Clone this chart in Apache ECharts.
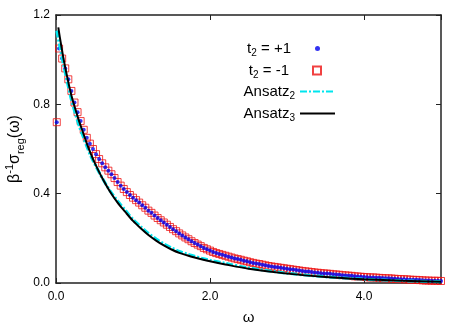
<!DOCTYPE html>
<html><head><meta charset="utf-8">
<script src="https://cdn.jsdelivr.net/npm/echarts@6/dist/echarts.min.js"></script>
<style>html,body{margin:0;padding:0;background:#fff}#c{width:463px;height:324px}</style>
</head><body><div id="c"></div>
<script>
// Tick labels
const xTicks = [0, 2, 4];
const yTicks = [0, 0.4, 0.8, 1.2];

// Data points (t2 = +1 and t2 = -1 coincide)
const omega = [0.01,
0.04,0.08,0.12,0.16,0.20,0.24,0.28,0.32,0.36,0.40,0.44,0.48,0.52,0.56,0.60,0.64,0.68,0.72,0.76,0.80,0.84,0.88,0.92,0.96,1.00,
1.04,1.08,1.12,1.16,1.20,1.24,1.28,1.32,1.36,1.40,1.44,1.48,1.52,1.56,1.60,1.64,1.68,1.72,1.76,1.80,1.84,1.88,1.92,1.96,2.00,
2.04,2.08,2.12,2.16,2.20,2.24,2.28,2.32,2.36,2.40,2.44,2.48,2.52,2.56,2.60,2.64,2.68,2.72,2.76,2.80,2.84,2.88,2.92,2.96,3.00,
3.04,3.08,3.12,3.16,3.20,3.24,3.28,3.32,3.36,3.40,3.44,3.48,3.52,3.56,3.60,3.64,3.68,3.72,3.76,3.80,3.84,3.88,3.92,3.96,4.00,
4.04,4.08,4.12,4.16,4.20,4.24,4.28,4.32,4.36,4.40,4.44,4.48,4.52,4.56,4.60,4.64,4.68,4.72,4.76,4.80,4.84,4.88,4.92,4.96,5.00];
const sigmaPlus = [0.72,
1.050,1.005,0.961,0.912,0.860,0.808,0.765,0.725,0.686,0.650,0.624,0.600,0.577,0.555,0.536,0.518,0.503,0.487,0.470,0.452,0.436,0.421,0.407,0.394,0.382,
0.371,0.360,0.348,0.337,0.324,0.314,0.302,0.291,0.281,0.271,0.261,0.251,0.241,0.232,0.222,0.213,0.204,0.196,0.187,0.179,0.172,0.165,0.157,0.151,0.145,
0.139,0.134,0.130,0.126,0.122,0.118,0.114,0.110,0.107,0.104,0.100,0.097,0.093,0.090,0.087,0.085,0.082,0.079,0.076,0.074,0.072,0.070,0.068,0.066,0.064,
0.062,0.060,0.058,0.056,0.054,0.052,0.051,0.049,0.047,0.046,0.044,0.043,0.042,0.041,0.039,0.038,0.037,0.035,0.034,0.033,0.032,0.030,0.029,0.028,0.027,
0.026,0.025,0.025,0.024,0.023,0.022,0.021,0.021,0.020,0.019,0.018,0.017,0.017,0.016,0.015,0.014,0.014,0.013,0.012,0.011,0.011,0.010,0.010,0.010,0.009];
const sigmaMinus = sigmaPlus.slice();

// Ansatz curves
const ansatz2Omega = [0.01,0.05,0.10,0.15,0.20,0.25,0.30,0.35,0.40,0.45,0.50,0.60,0.70,0.80,0.90,1.00,1.10,1.20,1.30,1.40,1.50,1.60,1.70,1.80,1.90,2.00,2.20,2.50,3.00,3.50,4.00,4.50,5.00];
const ansatz2 = [1.13,1.06,0.975,0.895,0.820,0.760,0.705,0.658,0.612,0.570,0.535,0.470,0.414,0.367,0.326,0.285,0.252,0.222,0.197,0.175,0.157,0.142,0.130,0.120,0.110,0.102,0.088,0.068,0.044,0.028,0.017,0.010,0.006];
const ansatz3Omega = [0.03,0.05,0.10,0.15,0.20,0.25,0.30,0.35,0.40,0.45,0.50,0.60,0.70,0.80,0.90,1.00,1.10,1.20,1.30,1.40,1.50,1.60,1.70,1.80,1.90,2.00,2.20,2.50,3.00,3.50,4.00,4.50,5.00];
const ansatz3 = [1.145,1.10,1.00,0.915,0.840,0.780,0.725,0.675,0.625,0.580,0.540,0.470,0.410,0.360,0.318,0.278,0.245,0.215,0.190,0.168,0.150,0.135,0.124,0.114,0.105,0.097,0.083,0.064,0.042,0.027,0.017,0.010,0.006];

const zip = (a, b) => a.map((v, i) => [v, b[i]]);
const chart = echarts.init(document.getElementById('c'));
const font = 'Liberation Sans, Arial, sans-serif';
const axisCol = '#222';
const richLeg = {
  n: {fontSize: 15, lineHeight: 20, fontFamily: font, color: '#000'},
  s: {fontSize: 10, lineHeight: 11, verticalAlign: 'bottom', fontFamily: font, color: '#000'},
  w: {width: 19, fontSize: 15, lineHeight: 20}
};
const legNames = {
  p: 't{s|2}{n| = +1}{w|}',
  m: 't{s|2}{n| = -1}{w|}',
  a2: '{n|Ansatz}{s|2}',
  a3: '{n|Ansatz}{s|3}'
};
function mkLegend(name, top, iw, ih, right, extra) {
  return Object.assign({
    data: [name], top: top, right: right, align: 'right', orient: 'vertical',
    itemWidth: iw, itemHeight: ih, itemGap: 0, padding: 0,
    formatter: (nm) => legNames[nm],
    textStyle: {rich: richLeg, fontSize: 15, fontFamily: font, color: '#000'},
    selectedMode: false
  }, extra || {});
}
const valAxisCommon = {
  type: 'value',
  axisLine: {show: true, onZero: false, lineStyle: {color: axisCol, width: 1.5}},
  axisTick: {show: true, inside: true, length: 5, lineStyle: {color: axisCol, width: 1}},
  splitLine: {show: false}
};
chart.setOption({
  animation: false,
  backgroundColor: '#fff',
  grid: {left: 56, right: 22, top: 15, bottom: 41, containLabel: false, outerBoundsMode: 'none'},
  legend: [
    mkLegend('p', 41, 5, 5, 143),
    mkLegend('m', 63, 8, 8, 141),
    mkLegend('a2', 84, 35, 14, 127, {itemStyle: {color: 'rgba(0,0,0,0)', borderWidth: 0}}),
    mkLegend('a3', 106, 35, 14, 127, {itemStyle: {color: 'rgba(0,0,0,0)', borderWidth: 0}})
  ],
  xAxis: [
    Object.assign({}, valAxisCommon, {
      min: 0, max: 5, interval: 2, position: 'bottom',
      name: 'ω', nameLocation: 'middle', nameGap: 27, nameMoveOverlap: false,
      nameTextStyle: {fontSize: 15, fontFamily: font, color: '#000'},
      axisLabel: {showMaxLabel: false, fontSize: 12, fontFamily: font, color: '#000', margin: 8,
        formatter: v => xTicks.includes(v) ? v.toFixed(1) : ''}
    }),
    Object.assign({}, valAxisCommon, {
      min: 0, max: 5, interval: 2, position: 'top', axisLabel: {show: false}
    })
  ],
  yAxis: [
    Object.assign({}, valAxisCommon, {
      min: 0, max: 1.2, interval: 0.4, position: 'left',
      name: '{m|β}{sup|-1}{m|σ}{sub|reg}{m|(ω)}', nameLocation: 'middle', nameGap: 30, nameMoveOverlap: false,
      nameTextStyle: {fontSize: 16, fontFamily: font, color: '#000',
        rich: {
          m: {fontSize: 16, lineHeight: 22, fontFamily: font, color: '#000'},
          sup: {fontSize: 11, lineHeight: 12, verticalAlign: 'top', fontFamily: font, color: '#000'},
          sub: {fontSize: 11, lineHeight: 12, verticalAlign: 'bottom', fontFamily: font, color: '#000'}
        }},
      axisLabel: {fontSize: 12, fontFamily: font, color: '#000', margin: 6,
        formatter: v => yTicks.some(t => Math.abs(t - v) < 1e-9) ? v.toFixed(1) : ''}
    }),
    Object.assign({}, valAxisCommon, {
      min: 0, max: 1.2, interval: 0.4, position: 'right', axisLabel: {show: false}
    })
  ],
  series: [
    {
      name: 'p', type: 'scatter', data: zip(omega, sigmaPlus),
      symbol: 'circle', symbolSize: 4,
      itemStyle: {color: '#0000ee'}, z: 3
    },
    {
      name: 'm', type: 'scatter', data: zip(omega, sigmaMinus),
      symbol: 'rect', symbolSize: 7,
      itemStyle: {color: 'rgba(0,0,0,0)', borderColor: '#ee1111', borderWidth: 1}, z: 2
    },
    {
      name: 'a2', type: 'line', data: zip(ansatz2Omega, ansatz2),
      showSymbol: false, symbol: 'none', smooth: 0.3,
      lineStyle: {color: '#00e5ee', width: 3, type: [7, 2, 2, 2]},
      itemStyle: {color: '#00e5ee'}, z: 4
    },
    {
      name: 'a3', type: 'line', data: zip(ansatz3Omega, ansatz3),
      showSymbol: false, symbol: 'none', smooth: 0.3,
      lineStyle: {color: '#000', width: 2},
      itemStyle: {color: '#000'}, z: 5
    }
  ]
});
</script></body></html>
